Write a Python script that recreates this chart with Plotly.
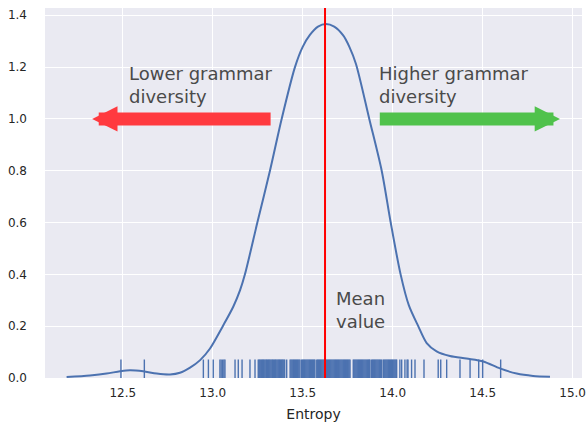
import plotly.graph_objects as go

# KDE curve
kde_x = [12.188, 12.318, 12.41, 12.485, 12.54, 12.614, 12.689, 12.763, 12.818, 12.874,
         12.93, 12.985, 13.056, 13.114, 13.152, 13.179, 13.248, 13.318, 13.383, 13.457,
         13.5, 13.54, 13.585, 13.629, 13.675, 13.725, 13.76, 13.796, 13.87, 13.939,
         13.989, 14.044, 14.09, 14.142, 14.189, 14.244, 14.318, 14.41, 14.503, 14.596,
         14.689, 14.78, 14.874]
kde_y = [0.004, 0.01, 0.017, 0.026, 0.030, 0.026, 0.017, 0.0135, 0.02, 0.04,
         0.069, 0.114, 0.2, 0.275, 0.339, 0.4, 0.6, 0.8, 1.0, 1.2,
         1.278, 1.324, 1.356, 1.366, 1.356, 1.322, 1.277, 1.212, 1.0, 0.8,
         0.6, 0.4, 0.28, 0.2, 0.135, 0.103, 0.085, 0.075, 0.064, 0.037,
         0.017, 0.008, 0.005]

# Rug (individual observations)
rug_left = [12.49, 12.62, 12.948, 12.976, 13.003, 13.04, 13.047, 13.055, 13.062, 13.068,
            13.124, 13.142, 13.163, 13.207, 13.235]
rug_dense = [13.253, 13.258, 13.262, 13.267, 13.272, 13.277, 13.281, 13.286, 13.291, 13.296,
             13.300, 13.305, 13.310, 13.314, 13.319, 13.324, 13.329, 13.333, 13.338, 13.343,
             13.348, 13.352, 13.357, 13.362, 13.367, 13.371, 13.376, 13.381, 13.386, 13.390,
             13.395, 13.400, 13.411,
             13.430, 13.435, 13.440, 13.445, 13.450, 13.455, 13.460, 13.465, 13.470, 13.475,
             13.480, 13.485,
             13.494, 13.499, 13.504, 13.509, 13.514, 13.519, 13.524, 13.529, 13.534, 13.539,
             13.544, 13.549, 13.554, 13.559, 13.564, 13.568,
             13.578, 13.583, 13.588, 13.593, 13.598, 13.603, 13.608, 13.613, 13.618, 13.623,
             13.628, 13.633, 13.638, 13.643, 13.648, 13.653, 13.658, 13.663, 13.668, 13.673,
             13.678, 13.683, 13.688, 13.693, 13.698, 13.703, 13.708, 13.713, 13.718, 13.723,
             13.728, 13.733, 13.738, 13.743, 13.748, 13.753, 13.758, 13.763,
             13.781, 13.786, 13.791, 13.796, 13.801, 13.806, 13.811, 13.816, 13.821, 13.826,
             13.831, 13.836, 13.841, 13.846, 13.851, 13.856, 13.861, 13.866, 13.870, 13.874,
             13.883, 13.888, 13.893, 13.898, 13.903, 13.908, 13.913, 13.918, 13.923, 13.928,
             13.933, 13.939,
             13.948, 13.953, 13.958, 13.963, 13.968, 13.973, 13.978, 13.983, 13.988, 13.993,
             13.998, 14.003, 14.008, 14.013, 14.018, 14.022]
rug_right = [14.04, 14.05, 14.068, 14.08, 14.085, 14.105, 14.124, 14.174, 14.253, 14.267,
             14.3, 14.374, 14.43, 14.478, 14.5, 14.6]

mean_value = 13.624

x_ticks = [12.5, 13.0, 13.5, 14.0, 14.5, 15.0]
y_ticks = [0.0, 0.2, 0.4, 0.6, 0.8, 1.0, 1.2, 1.4]
x_range = [12.068, 15.052]
y_range = [0.0, 1.428]

BLUE = "#4C72B0"
FONT = "DejaVu Sans"

rug_all = rug_left + rug_dense + rug_right
rug_h = 0.05 * y_range[1]
rx, ry = [], []
for v in rug_all:
    rx += [v, v, None]
    ry += [0, rug_h, None]

fig = go.Figure()
fig.add_trace(go.Scatter(x=rx, y=ry, mode="lines", line=dict(color=BLUE, width=1.4),
                         hoverinfo="skip", showlegend=False))
fig.add_trace(go.Scatter(x=kde_x, y=kde_y, mode="lines",
                         line=dict(color=BLUE, width=2, shape="spline", smoothing=0.8),
                         showlegend=False))
fig.add_trace(go.Scatter(x=[mean_value, mean_value], y=y_range, mode="lines",
                         line=dict(color="#ff0000", width=2), showlegend=False))

txt_color = "#4a4a4a"
fig.add_annotation(x=12.33, y=1.0, ax=13.33, ay=1.0, axref="x", ayref="y", xref="x", yref="y",
                   text="", showarrow=True, arrowhead=2, arrowsize=0.39, arrowwidth=13,
                   arrowcolor="#ff3a3f", standoff=0, startstandoff=0)
fig.add_annotation(x=14.93, y=1.0, ax=13.92, ay=1.0, axref="x", ayref="y", xref="x", yref="y",
                   text="", showarrow=True, arrowhead=2, arrowsize=0.39, arrowwidth=13,
                   arrowcolor="#50c24c", standoff=0, startstandoff=0)
fig.add_annotation(x=12.525, y=1.225, xref="x", yref="y", text="Lower grammar<br>diversity",
                   showarrow=False, xanchor="left", yanchor="top", align="left",
                   font=dict(family=FONT, size=18, color=txt_color))
fig.add_annotation(x=13.915, y=1.225, xref="x", yref="y", text="Higher grammar<br>diversity",
                   showarrow=False, xanchor="left", yanchor="top", align="left",
                   font=dict(family=FONT, size=18, color=txt_color))
fig.add_annotation(x=13.675, y=0.355, xref="x", yref="y", text="Mean<br>value",
                   showarrow=False, xanchor="left", yanchor="top", align="left",
                   font=dict(family=FONT, size=18, color=txt_color))

fig.update_layout(
    width=587, height=426,
    margin=dict(l=45, r=5, t=8, b=48),
    paper_bgcolor="white", plot_bgcolor="#EAEAF2",
    font=dict(family=FONT, color="#262626", size=12),
    showlegend=False,
)
fig.update_xaxes(range=x_range, tickvals=x_ticks, tickformat=".1f", showgrid=True,
                 gridcolor="white", gridwidth=1.3, zeroline=False, showline=False,
                 ticks="", ticklabelstandoff=6, automargin=False, ticklabeloverflow="allow",
                 title=dict(text="Entropy", font=dict(size=14, family=FONT, color="#262626"), standoff=10))
fig.update_yaxes(range=y_range, tickvals=y_ticks, tickformat=".1f", showgrid=True,
                 gridcolor="white", gridwidth=1.3, zeroline=False, showline=False,
                 ticks="", ticklabelstandoff=17, automargin=False, ticklabeloverflow="allow")

fig.write_html("out.html", config={"displayModeBar": False},
               post_script="document.body.style.margin='0';")
